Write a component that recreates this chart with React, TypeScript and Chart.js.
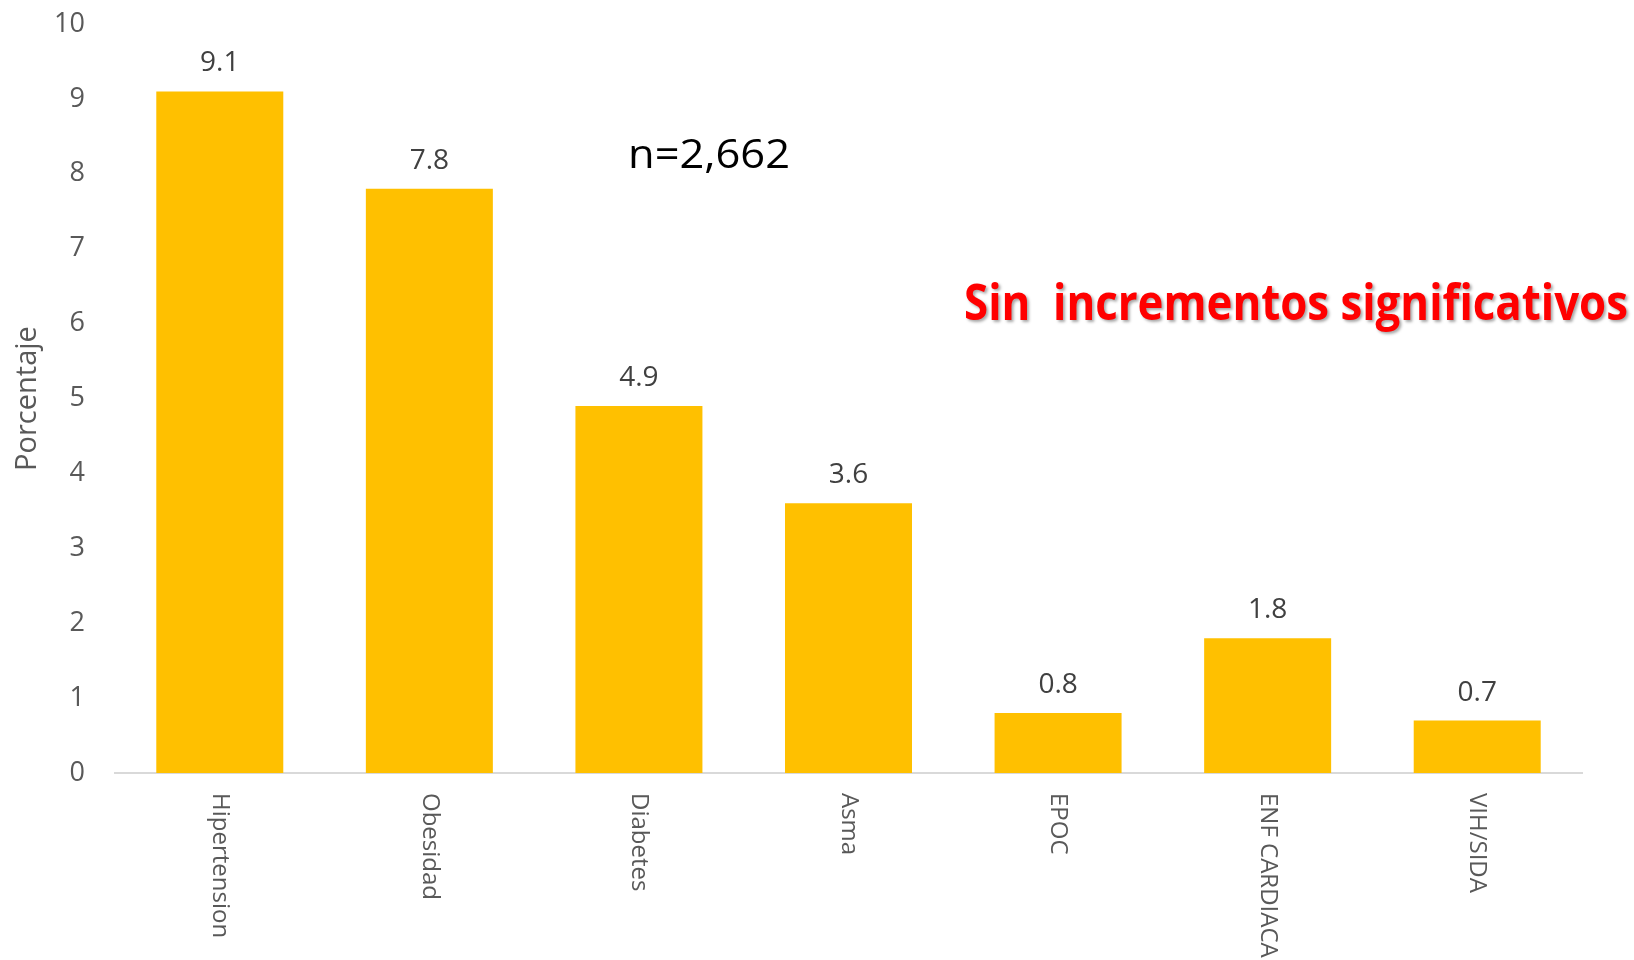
import React, { useEffect, useRef } from "react";
import { Chart, registerables } from "chart.js";

Chart.register(...registerables);

const categories = ["Hipertension", "Obesidad", "Diabetes", "Asma", "EPOC", "ENF CARDIACA", "VIH/SIDA"];
const values = [9.1, 7.8, 4.9, 3.6, 0.8, 1.8, 0.7];
const yTicks = [0, 1, 2, 3, 4, 5, 6, 7, 8, 9, 10];
const annotationN = "n=2,662";
const annotationRed = "Sin  incrementos significativos";

const FONT = "'Open Sans', 'DejaVu Sans', sans-serif";

const overlayPlugin = {
  id: "overlay",
  afterDatasetsDraw(chart: any) {
    const ctx = chart.ctx;
    const meta = chart.getDatasetMeta(0);
    ctx.save();
    // data labels
    ctx.fillStyle = "#404040";
    ctx.font = `28px ${FONT}`;
    ctx.textAlign = "center";
    ctx.textBaseline = "alphabetic";
    meta.data.forEach((bar: any, i: number) => {
      ctx.fillText(values[i].toFixed(1), bar.x, bar.y - 20);
    });
    // x labels rotated clockwise
    ctx.fillStyle = "#595959";
    ctx.font = `24px ${FONT}`;
    const axisY = chart.chartArea.bottom;
    meta.data.forEach((bar: any, i: number) => {
      ctx.save();
      ctx.translate(bar.x, axisY + 20);
      ctx.rotate(Math.PI / 2);
      ctx.textAlign = "left";
      ctx.textBaseline = "middle";
      ctx.fillText(categories[i], 0, 0);
      ctx.restore();
    });
    // n annotation
    ctx.save();
    ctx.fillStyle = "#000000";
    ctx.font = `40px ${FONT}`;
    const wN = ctx.measureText(annotationN).width;
    ctx.translate(709, 168);
    ctx.scale(162 / wN, 1);
    ctx.textAlign = "center";
    ctx.textBaseline = "alphabetic";
    ctx.fillText(annotationN, 0, 0);
    ctx.restore();
    // red annotation
    ctx.save();
    ctx.fillStyle = "#FF0000";
    ctx.font = `bold 50px ${FONT}`;
    const wR = ctx.measureText(annotationRed).width;
    ctx.translate(1296, 320);
    ctx.scale(664 / wR, 1);
    ctx.shadowColor = "rgba(0,0,0,0.35)";
    ctx.shadowOffsetX = 2;
    ctx.shadowOffsetY = 2;
    ctx.shadowBlur = 3;
    ctx.textAlign = "center";
    ctx.textBaseline = "alphabetic";
    ctx.fillText(annotationRed, 0, 0);
    ctx.restore();
    ctx.restore();
  },
};

export default function App() {
  const ref = useRef<HTMLCanvasElement>(null);
  useEffect(() => {
    document.body.style.margin = "0";
    const chart = new Chart(ref.current!, {
      type: "bar",
      data: {
        labels: categories,
        datasets: [
          {
            data: values,
            backgroundColor: "#FFC000",
            borderWidth: 0,
            barPercentage: 0.606,
            categoryPercentage: 1,
          },
        ],
      },
      options: {
        animation: false,
        responsive: false,
        layout: { padding: { top: 0, right: 52, left: 0, bottom: 0 } },
        plugins: { legend: { display: false }, tooltip: { enabled: false } },
        scales: {
          x: {
            grid: { display: false, drawTicks: false },
            border: { display: true, color: "#D9D9D9", width: 2 },
            ticks: { display: false },
            afterFit(scale: any) {
              scale.height = 187;
            },
          },
          y: {
            min: 0,
            max: 10,
            afterBuildTicks(scale: any) {
              scale.ticks = yTicks.map((v) => ({ value: v }));
            },
            grid: { display: false, drawTicks: false },
            border: { display: false },
            ticks: {
              color: "#595959",
              font: { size: 27, family: FONT },
              padding: 30,
            },
            title: {
              display: true,
              text: "Porcentaje",
              color: "#595959",
              font: { size: 29, family: FONT },
              padding: { top: 10, bottom: 0 },
            },
            afterFit(scale: any) {
              scale.width = 115;
              scale.paddingTop = 24;
              scale.paddingBottom = 0;
            },
          },
        },
      },
      plugins: [overlayPlugin],
    });
    return () => chart.destroy();
  }, []);
  return (
    <div style={{ width: 1634, height: 960 }}>
      <canvas ref={ref} width={1634} height={960} />
    </div>
  );
}
